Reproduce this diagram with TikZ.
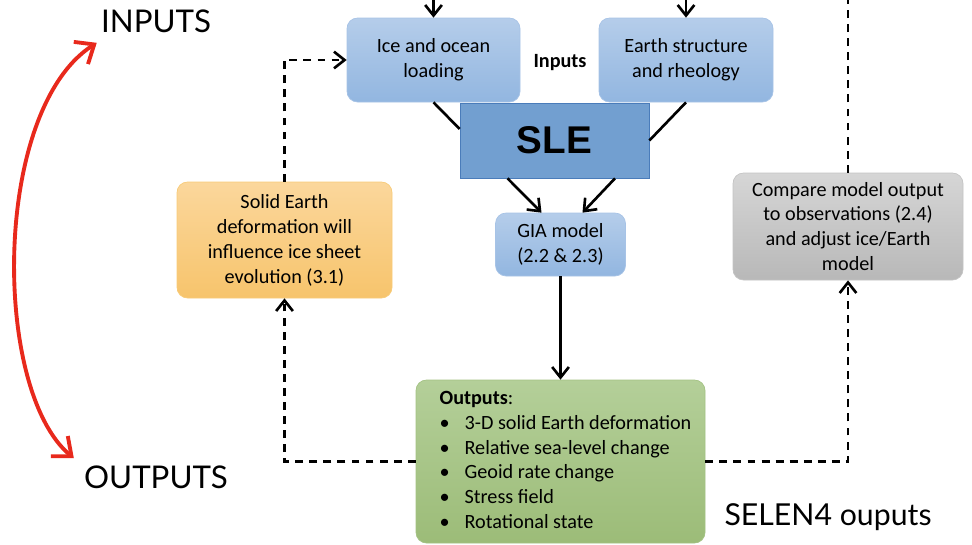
\documentclass[tikz,border=0pt]{standalone}
\usepackage{fontspec}
\setmainfont{Carlito}
\newfontfamily\gillfont{Lato}
\newfontfamily\arialfont{Liberation Sans}
\usetikzlibrary{arrows.meta, positioning, shadings}

\definecolor{bluetop}{HTML}{B5CDEA}
\definecolor{bluebot}{HTML}{92B6E0}
\definecolor{blueline}{HTML}{A7C3E6}
\definecolor{slefill}{HTML}{729FD0}
\definecolor{sleline}{HTML}{4A7CBA}
\definecolor{orangetop}{HTML}{FBD79C}
\definecolor{orangebot}{HTML}{F7C46C}
\definecolor{orangeline}{HTML}{F8CB78}
\definecolor{greytop}{HTML}{D6D6D6}
\definecolor{greybot}{HTML}{B8B8B8}
\definecolor{greyline}{HTML}{C4C4C4}
\definecolor{greentop}{HTML}{B4CF99}
\definecolor{greenbot}{HTML}{9CBC78}
\definecolor{greenline}{HTML}{A3C283}
\definecolor{redpen}{HTML}{E8291C}

\begin{document}
\begin{tikzpicture}[
    >={Straight Barb[length=6pt, width=9.5pt]},
    every node/.style={font=\fontsize{11.5}{14.2}\selectfont},
    panel/.style={rounded corners=6pt, align=center, inner sep=2pt},
    bluebox/.style={panel, draw=blueline, top color=bluetop, bottom color=bluebot},
    orangebox/.style={panel, draw=orangeline, top color=orangetop, bottom color=orangebot},
    greybox/.style={panel, draw=greyline, top color=greytop, bottom color=greybot},
    greenbox/.style={panel, draw=greenline, top color=greentop, bottom color=greenbot},
    slebox/.style={draw=sleline, fill=slefill, font=\arialfont\bfseries\fontsize{22}{26}\selectfont},
    bigtext/.style={font=\gillfont\fontsize{17.8}{20}\selectfont, inner sep=0pt},
    link/.style={line width=1.5pt},
    feedback/.style={line width=1.5pt, dash pattern=on 4.5pt off 3.5pt}
  ]
  \useasboundingbox (0,0) rectangle (19.44,-10.88);

  % Inputs
  \node[bluebox, minimum width=3.46cm, minimum height=1.68cm] (ice) at (8.67,-1.2) {Ice and ocean\\loading};
  \node[bluebox, minimum width=3.48cm, minimum height=1.68cm] (earth) at (13.72,-1.2) {Earth structure\\and rheology};
  \node[font=\bfseries\fontsize{11.5}{14.2}\selectfont] (inlabel) at (11.2,-1.26) {Inputs};
  \coordinate (icetop) at (ice.north |- 0,0);
  \coordinate (earthtop) at (earth.north |- 0,0);

  % Model
  \node[slebox, minimum width=3.78cm, minimum height=1.5cm] (sle) at (11.09,-2.81) {SLE};
  \node[bluebox, minimum width=2.6cm, minimum height=1.26cm] (gia) at (11.21,-4.89) {GIA model\\(2.2 \& 2.3)};

  % Outputs
  \node[greenbox, inner sep=0pt, minimum width=5.78cm, minimum height=3.26cm] (outputs) at (11.21,-9.23) {%
    \begin{tabular}{@{\hspace{0.2cm}}l@{}}
      \textbf{Outputs}:\\
      \makebox[0.5cm][l]{\textbullet}3-D solid Earth deformation\\
      \makebox[0.5cm][l]{\textbullet}Relative sea-level change\\
      \makebox[0.5cm][l]{\textbullet}Geoid rate change\\
      \makebox[0.5cm][l]{\textbullet}Stress field\\
      \makebox[0.5cm][l]{\textbullet}Rotational state
    \end{tabular}};

  % Feedbacks
  \node[orangebox, minimum width=4.3cm, minimum height=2.32cm] (solid) at (5.69,-4.8) {Solid Earth\\deformation will\\influence ice sheet\\evolution (3.1)};
  \node[greybox, minimum width=4.6cm, minimum height=2.14cm] (compare) at (16.96,-4.53) {Compare model output\\to observations (2.4)\\and adjust ice/Earth\\model};
  \coordinate (comparetop) at (compare.north |- 0,0);

  % Side labels
  \node[bigtext] (inputs) at (3.12,-0.42) {INPUTS};
  \node[bigtext] (outs) at (3.12,-9.54) {OUTPUTS};
  \node[font=\gillfont\fontsize{17.2}{20}\selectfont, inner sep=0pt] (selen) at (16.56,-10.34) {SELEN4 ouputs};

  % Arrows
  \draw[link, ->] (icetop) -- (ice.north);
  \draw[link, ->] (earthtop) -- (earth.north);
  \draw[link] (ice.south) -- ([yshift=0.23cm]sle.west);
  \draw[link] (earth.south) -- (sle.east);
  \draw[link, ->] ([xshift=-0.94cm]sle.south) -- ([xshift=-0.38cm]gia.north);
  \draw[link, ->] ([xshift=1.21cm]sle.south) -- ([xshift=0.44cm]gia.north);
  \draw[link, ->] (gia) -- (outputs);

  \draw[feedback, ->] (outputs.west) -| (solid.south);
  \draw[feedback, ->] (solid.north) |- (ice.west);
  \draw[feedback, ->] (outputs.east) -| (compare.south);
  \draw[feedback] (compare.north) -- (comparetop);

  \draw[redpen, line width=2.2pt, line cap=round, {Straight Barb[length=9pt, width=15pt]}-{Straight Barb[length=9pt, width=15pt]}]
    ([shift={(-0.2,0.14)}]outs.north west) .. controls (-0.16,-7.8) and (-0.16,-2.2) .. ([shift={(-0.08,-0.2)}]inputs.south west);
\end{tikzpicture}
\end{document}
